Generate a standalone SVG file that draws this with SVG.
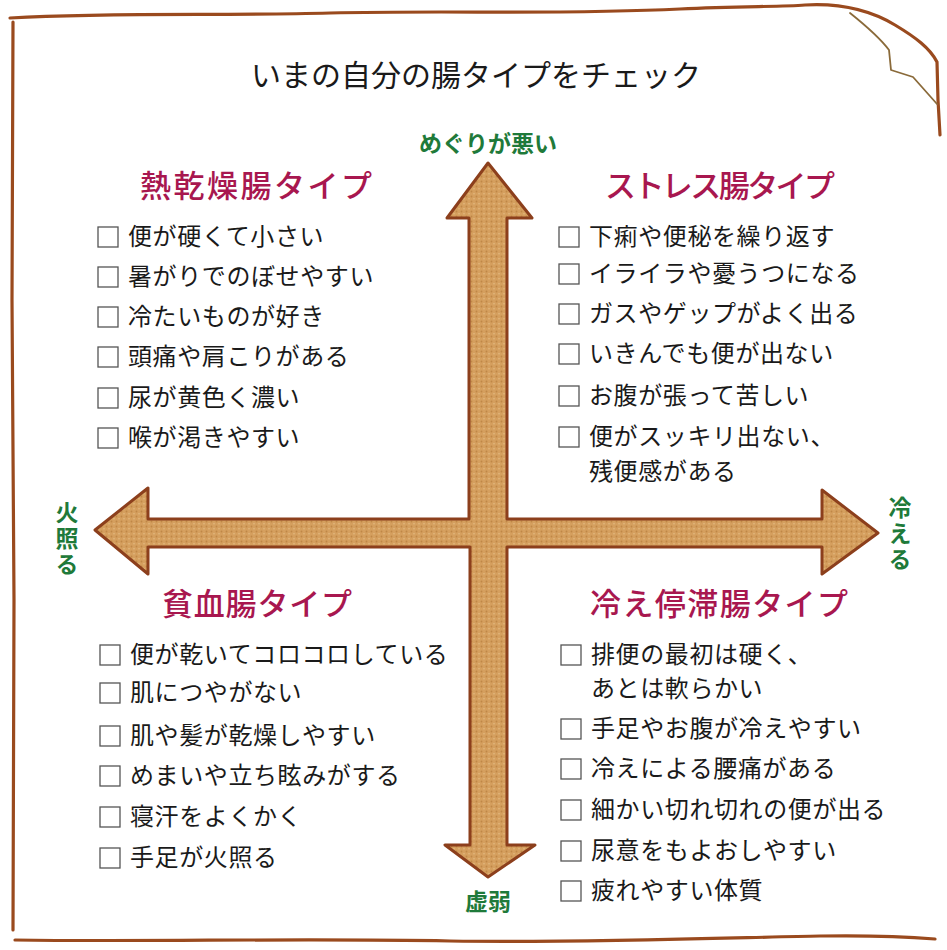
<svg xmlns="http://www.w3.org/2000/svg" width="947" height="950" viewBox="0 0 947 950">
<style>
.t{font-family:"Noto Sans CJK JP","Noto Sans",sans-serif;}
.title{font-size:30px;fill:#1a1a1a;}
.ax{font-size:23px;font-weight:700;fill:#1f7a3a;}
.axv{writing-mode:vertical-rl;letter-spacing:3px;}
.hd{font-size:31px;fill:#a8174f;font-weight:500;}
.it{font-size:24px;fill:#1a1a1a;letter-spacing:0.6px;}
.box{fill:#fff;stroke:#555;stroke-width:1.3;}
.border{fill:none;stroke:#9a4a1e;stroke-width:3.2;stroke-linecap:round;stroke-linejoin:round;}
.border2{fill:none;stroke:#8a6a3a;stroke-width:1.8;stroke-linecap:round;stroke-linejoin:round;}
</style>
<defs>
<pattern id="tex" width="5" height="5" patternUnits="userSpaceOnUse">
<rect width="5" height="5" fill="#d59f5e"/>
<circle cx="1.5" cy="1.5" r="0.9" fill="#bf8746"/>
<circle cx="4" cy="3.8" r="0.7" fill="#e6c08a"/>
</pattern>
</defs>
<rect width="947" height="950" fill="#ffffff"/>
<g id="frame">
<path class="border" d="M10,18 C120,12 220,16 330,13 C450,10 560,15 680,9 C740,6 780,7 805,5 C840,3 870,10 895,25 C915,37 930,48 937,62 L938,100 L940,135"/>
<path class="border2" d="M850,13 C865,25 880,38 889,50 L891,70 L913,77 L937,104"/>
<path class="border" d="M13,22 L12,300 L14,600 L13,930"/>
<path class="border" d="M15,940 C150,942 300,938 450,941 C600,943 750,937 820,936 C880,935 910,937 935,939"/>
</g>
<g id="title"><text class="t title" x="476" y="86" text-anchor="middle">いまの自分の腸タイプをチェック</text></g>
<g id="connectors">
<path d="M488,163 L532,218 L507,218 L507,519 L822,519 L822,490 L878,533 L822,574 L822,547 L507,547 L507,845 L535,845 L488,877 L445,845 L470,845 L470,547 L148,547 L148,574 L95,530 L148,488 L148,519 L469,519 L469,218 L447,218 Z" fill="url(#tex)" stroke="#8c3f1c" stroke-width="3" stroke-linejoin="round"/>
</g>
<g id="axis-top"><text class="t ax" x="488" y="152" text-anchor="middle">めぐりが悪い</text></g>
<g id="axis-bottom"><text class="t ax" x="488" y="910" text-anchor="middle">虚弱</text></g>
<g id="axis-left"><text class="t ax axv" x="67" y="501">火照る</text></g>
<g id="axis-right"><text class="t ax axv" x="900" y="496">冷える</text></g>
<g id="type-netsukansou">
<text class="t hd" x="140" y="197" textLength="232" lengthAdjust="spacing">熱乾燥腸タイプ</text>
<rect class="box" x="98" y="227" width="20" height="20"/><text class="t it" x="128" y="245">便が硬くて小さい</text>
<rect class="box" x="98" y="267" width="20" height="20"/><text class="t it" x="128" y="285">暑がりでのぼせやすい</text>
<rect class="box" x="98" y="307" width="20" height="20"/><text class="t it" x="128" y="325">冷たいものが好き</text>
<rect class="box" x="98" y="347" width="20" height="20"/><text class="t it" x="128" y="365">頭痛や肩こりがある</text>
<rect class="box" x="98" y="388" width="20" height="20"/><text class="t it" x="128" y="406">尿が黄色く濃い</text>
<rect class="box" x="98" y="428" width="20" height="20"/><text class="t it" x="128" y="446">喉が渇きやすい</text>
</g>
<g id="type-stress">
<text class="t hd" x="605" y="197" textLength="230" lengthAdjust="spacing">ストレス腸タイプ</text>
<rect class="box" x="559" y="227" width="20" height="20"/><text class="t it" x="589" y="245">下痢や便秘を繰り返す</text>
<rect class="box" x="559" y="264" width="20" height="20"/><text class="t it" x="589" y="282">イライラや憂うつになる</text>
<rect class="box" x="559" y="304" width="20" height="20"/><text class="t it" x="589" y="322">ガスやゲップがよく出る</text>
<rect class="box" x="559" y="344" width="20" height="20"/><text class="t it" x="589" y="362">いきんでも便が出ない</text>
<rect class="box" x="559" y="386" width="20" height="20"/><text class="t it" x="589" y="404">お腹が張って苦しい</text>
<rect class="box" x="559" y="427" width="20" height="20"/><text class="t it" x="589" y="445">便がスッキリ出ない、</text>
<text class="t it" x="589" y="480">残便感がある</text>
</g>
<g id="type-hinketsu">
<text class="t hd" x="162" y="615" textLength="190" lengthAdjust="spacing">貧血腸タイプ</text>
<rect class="box" x="100" y="645" width="20" height="20"/><text class="t it" x="130" y="663">便が乾いてコロコロしている</text>
<rect class="box" x="100" y="683" width="20" height="20"/><text class="t it" x="130" y="701">肌につやがない</text>
<rect class="box" x="100" y="726" width="20" height="20"/><text class="t it" x="130" y="744">肌や髪が乾燥しやすい</text>
<rect class="box" x="100" y="766" width="20" height="20"/><text class="t it" x="130" y="784">めまいや立ち眩みがする</text>
<rect class="box" x="100" y="807" width="20" height="20"/><text class="t it" x="130" y="825">寝汗をよくかく</text>
<rect class="box" x="100" y="848" width="20" height="20"/><text class="t it" x="130" y="866">手足が火照る</text>
</g>
<g id="type-hieteitai">
<text class="t hd" x="590" y="615" textLength="258" lengthAdjust="spacing">冷え停滞腸タイプ</text>
<rect class="box" x="561" y="645" width="20" height="20"/><text class="t it" x="591" y="663">排便の最初は硬く、</text>
<text class="t it" x="591" y="697">あとは軟らかい</text>
<rect class="box" x="561" y="719" width="20" height="20"/><text class="t it" x="591" y="737">手足やお腹が冷えやすい</text>
<rect class="box" x="561" y="759" width="20" height="20"/><text class="t it" x="591" y="777">冷えによる腰痛がある</text>
<rect class="box" x="561" y="800" width="20" height="20"/><text class="t it" x="591" y="818">細かい切れ切れの便が出る</text>
<rect class="box" x="561" y="841" width="20" height="20"/><text class="t it" x="591" y="859">尿意をもよおしやすい</text>
<rect class="box" x="561" y="881" width="20" height="20"/><text class="t it" x="591" y="899">疲れやすい体質</text>
</g>
</svg>
